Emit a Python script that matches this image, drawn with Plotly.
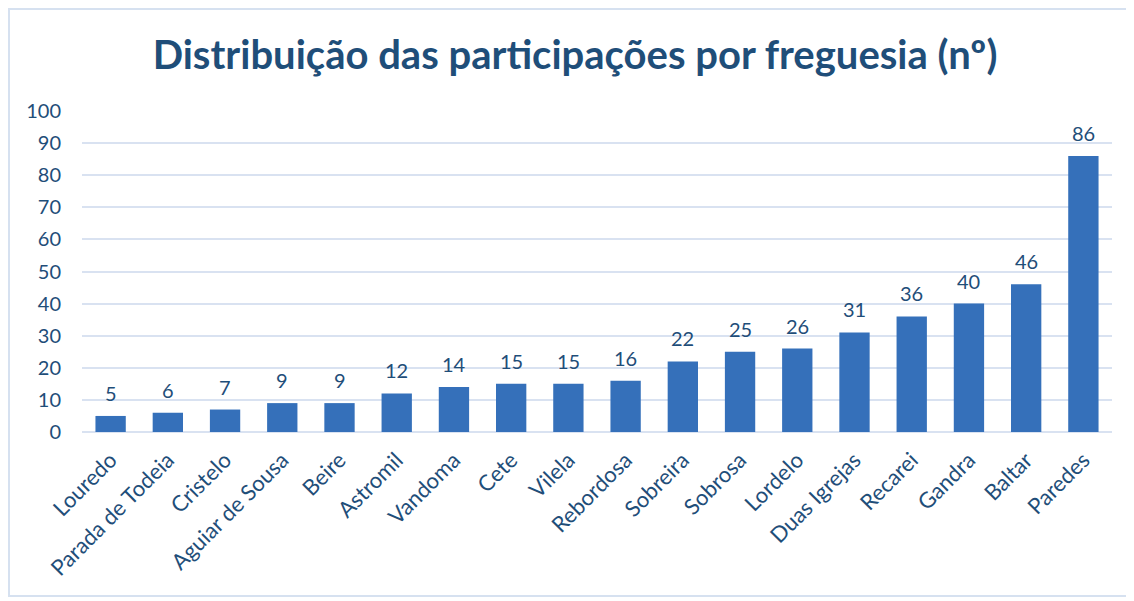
import plotly.graph_objects as go

categories = ["Louredo", "Parada de Todeia", "Cristelo", "Aguiar de Sousa", "Beire",
              "Astromil", "Vandoma", "Cete", "Vilela", "Rebordosa", "Sobreira",
              "Sobrosa", "Lordelo", "Duas Igrejas", "Recarei", "Gandra", "Baltar", "Paredes"]
values = [5, 6, 7, 9, 9, 12, 14, 15, 15, 16, 22, 25, 26, 31, 36, 40, 46, 86]
y_ticks = [0, 10, 20, 30, 40, 50, 60, 70, 80, 90, 100]

TXT = "#1F4E79"
FONT = "Lato"

fig = go.Figure()
fig.add_trace(go.Bar(
    x=categories, y=values,
    marker=dict(color="#3570BA", line=dict(width=0)),
))

OFF = 8  # page body margin
W, H = 1134 - OFF, 601 - OFF
L, R, T, B = 82 - OFF, 22, 111 - OFF, 169
pw, ph = W - L - R, H - T - B

annotations = [dict(x=c, y=v, xref="x", yref="y", text=str(v), showarrow=False,
                    yanchor="bottom", yshift=9,
                    font=dict(family=FONT, size=20, color=TXT))
               for c, v in zip(categories, values)]

fig.update_layout(
    width=W, height=H,
    margin=dict(l=L, r=R, t=T, b=B),
    paper_bgcolor="white", plot_bgcolor="white",
    title=dict(text="<b>Distribuição das participações por freguesia (nº)</b>",
               x=(575 - OFF) / W, xanchor="center", y=1 - (55 - OFF) / H, yanchor="middle",
               font=dict(family=FONT, size=40, color=TXT)),
    bargap=0.47,
    showlegend=False,
    annotations=annotations,
    xaxis=dict(tickangle=-45, tickfont=dict(family=FONT, size=22, color=TXT),
               showgrid=False, showline=False, ticks="", zeroline=False,
               ticklabelstandoff=10),
    yaxis=dict(range=[0, 100], tickvals=y_ticks, showgrid=True, gridcolor="#D9E2F1",
               gridwidth=1.5, zeroline=True, zerolinecolor="#D9E2F1", zerolinewidth=1.5,
               tickfont=dict(family=FONT, size=20, color=TXT), ticks="", ticklen=0,
               showline=False, ticklabelstandoff=20),
    shapes=[dict(type="rect", xref="paper", yref="paper",
                 x0=(1 - L) / pw, x1=(W - 5 - L) / pw,
                 y0=(H - B - (H - 5)) / ph, y1=(H - B - 1) / ph,
                 line=dict(color="#D6E1F0", width=2), fillcolor="rgba(0,0,0,0)",
                 layer="below")],
)
fig.write_html("out.html")
